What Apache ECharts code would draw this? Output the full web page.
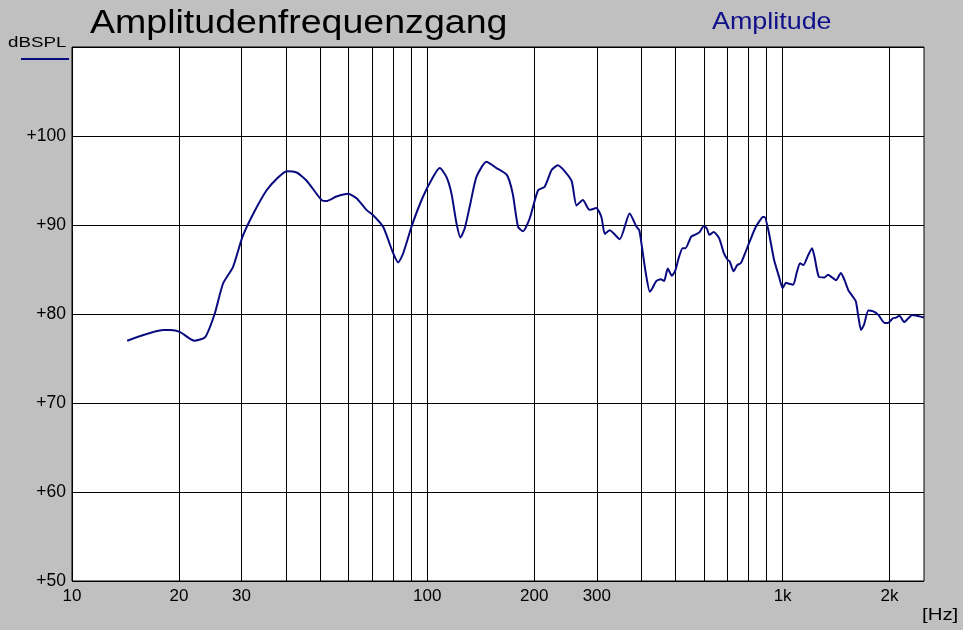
<!DOCTYPE html>
<html>
<head>
<meta charset="utf-8">
<script src="https://cdn.jsdelivr.net/npm/echarts@6/dist/echarts.min.js"></script>
<style>
html,body{margin:0;padding:0;background:#c0c0c0;}
#chart{width:963px;height:630px;}
</style>
</head>
<body>
<div id="chart"></div>
<script>
// Frequency (Hz) of each traced point
const freqs = [14.3,18.1,18.9,20.1,22.1,23.7,25.2,26.6,28.4,30.2,32.4,35.3,37.7,40.2,42.9,45.7,50.4,52.0,55.5,59.9,63.2,67.4,70.4,75.1,80.2,82.8,85.5,90.6,97.3,103.8,108.4,113.2,117,120.8,124,127.4,131.7,137.5,146.7,156.5,167.6,174,180,186,194,205,214,224,233,244,255,263,274,286,299,309,316,326,348,371,388,395,403,412,423,430,441,454,464,475,488,499,510,523,533,553,566,584,600,612,622,640,663,684,700,710,728,745,762,780,798,822,841,860,880,890,912,946,977,1000,1022,1044,1072,1095,1120,1144,1177,1210,1230,1264,1311,1341,1379,1414,1459,1494,1530,1580,1608,1634,1662,1695,1743,1800,1860,1937,1980,2041,2085,2133,2198,2256,2316,2384,2500];
// Amplitude (dB SPL) at each frequency
const amplitude = [77.0,78.2,78.2,78.0,77.0,77.4,80.0,83.4,85.3,88.7,91.3,93.9,95.2,96.05,95.9,95.0,92.8,92.7,93.2,93.5,93.0,91.7,91.1,89.8,86.8,85.8,86.8,90.0,93.2,95.4,96.4,95.4,93.5,90.2,88.6,89.6,92.1,95.4,97.1,96.4,95.6,93.5,89.8,89.3,90.7,93.9,94.3,96.2,96.7,96.0,94.9,92.2,92.8,91.7,91.9,90.9,89.0,89.4,88.4,91.3,89.8,89.4,87.2,84.6,82.5,82.9,83.7,83.9,83.7,85.1,84.3,84.9,86.3,87.4,87.4,88.7,88.9,89.2,89.9,89.6,88.9,89.2,88.5,86.8,86.1,85.9,84.8,85.5,85.7,86.6,87.6,88.9,89.8,90.4,90.9,90.9,89.4,86.1,84.2,82.9,83.5,83.4,83.3,84.6,85.7,85.5,86.5,87.4,86.4,84.2,84.1,84.4,84.1,83.8,84.6,83.8,82.7,81.9,81.4,79.7,78.2,78.8,80.4,80.3,79.9,79.0,79.0,79.5,79.6,79.8,79.1,79.5,79.9,79.8,79.6];
// Vertical grid lines (Hz)
const gridFreqs = [10,20,30,40,50,60,70,80,90,100,200,300,400,500,600,700,800,900,1000,2000];
// Labelled x ticks
const xTickValues = [10,20,30,100,200,300,1000,2000];
const xTickLabels = ['10','20','30','100','200','300','1k','2k'];

const chart = echarts.init(document.getElementById('chart'));
const FONT = 'Liberation Sans, Arial, sans-serif';

const markData = gridFreqs.map(f => {
  const idx = xTickValues.indexOf(f);
  return {
    xAxis: f,
    label: idx >= 0 ? {show: true, formatter: xTickLabels[idx]} : {show: false}
  };
});

chart.setOption({
  backgroundColor: '#c0c0c0',
  animation: false,
  grid: {
    show: true, backgroundColor: '#ffffff', borderColor: '#000000', borderWidth: 1,
    left: 72, right: 39, top: 47, bottom: 49
  },
  xAxis: {
    type: 'log', logBase: 10, min: 10, max: 2500,
    axisLine: {show: false}, axisTick: {show: false}, axisLabel: {show: false},
    splitLine: {show: false}, minorTick: {show: false}, minorSplitLine: {show: false}
  },
  yAxis: {
    type: 'value', min: 50, max: 110, interval: 10,
    axisLine: {show: false}, axisTick: {show: false},
    axisLabel: {
      color: '#000', fontSize: 17.5, fontFamily: FONT, margin: 6,
      formatter: v => v === 110 ? '' : '+' + v
    },
    splitLine: {show: true, lineStyle: {color: '#000', width: 1}}
  },
  series: [{
    type: 'line',
    data: freqs.map((f, i) => [f, amplitude[i]]),
    showSymbol: false, symbol: 'none', smooth: 0.2,
    lineStyle: {color: '#0a0a80', width: 2},
    z: 5,
    markLine: {
      silent: true, symbol: 'none', animation: false,
      lineStyle: {color: '#000', width: 1, type: 'solid'},
      label: {position: 'start', color: '#000', fontSize: 17, fontFamily: FONT, distance: 7},
      emphasis: {disabled: true},
      data: markData,
      z: 1
    }
  }],
  graphic: [
    {type: 'text', x: 90, y: 24.5, scaleX: 1.155,
     style: {text: 'Amplitudenfrequenzgang', x: 0, y: 0, fill: '#000', font: '32.5px ' + FONT, align: 'left', verticalAlign: 'middle'}},
    {type: 'text', x: 712, y: 22, scaleX: 1.12,
     style: {text: 'Amplitude', x: 0, y: 0, fill: '#10108a', font: '24px ' + FONT, align: 'left', verticalAlign: 'middle'}},
    {type: 'text', x: 8, y: 43.3, scaleX: 1.25,
     style: {text: 'dBSPL', x: 0, y: 0, fill: '#000', font: '15px ' + FONT, align: 'left', verticalAlign: 'middle'}},
    {type: 'line', shape: {x1: 21, y1: 59, x2: 69, y2: 59}, style: {stroke: '#0a0a80', lineWidth: 2}},
    {type: 'text', x: 922, y: 615, scaleX: 1.2,
     style: {text: '[Hz]', x: 0, y: 0, fill: '#000', font: '17px ' + FONT, align: 'left', verticalAlign: 'middle'}}
  ]
});
</script>
</body>
</html>
